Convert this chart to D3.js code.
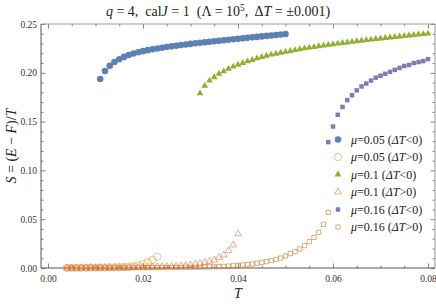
<!DOCTYPE html>
<html>
<head>
<meta charset="utf-8">
<script src="https://cdn.jsdelivr.net/npm/d3@7"></script>
<style>
  body { margin: 0; background: #fff; }
  svg text { font-family: "Liberation Serif", "Times New Roman", "DejaVu Serif", serif; }
</style>
</head>
<body>
<div id="chart"></div>
<script>
// [T, S] pairs, step dT = 0.001
const mu005Down = [
  [0.011, 0.1936], [0.012, 0.2018], [0.013, 0.2073], [0.014, 0.2110], [0.015, 0.2138],
  [0.016, 0.2163], [0.017, 0.2182], [0.018, 0.2198], [0.019, 0.2211], [0.020, 0.2222],
  [0.021, 0.2232], [0.022, 0.2241], [0.023, 0.2249], [0.024, 0.2257], [0.025, 0.2264],
  [0.026, 0.2271], [0.027, 0.2278], [0.028, 0.2284], [0.029, 0.2290], [0.030, 0.2296],
  [0.031, 0.2302], [0.032, 0.2308], [0.033, 0.2313], [0.034, 0.2318], [0.035, 0.2323],
  [0.036, 0.2328], [0.037, 0.2333], [0.038, 0.2338], [0.039, 0.2343], [0.040, 0.2348],
  [0.041, 0.2353], [0.042, 0.2358], [0.043, 0.2363], [0.044, 0.2368], [0.045, 0.2373],
  [0.046, 0.2378], [0.047, 0.2383], [0.048, 0.2388], [0.049, 0.2393], [0.050, 0.2398]
];
const mu005Up = [
  [0.004, 0.0001], [0.005, 0.0001], [0.006, 0.0001], [0.007, 0.0002], [0.008, 0.0002],
  [0.009, 0.0003], [0.010, 0.0003], [0.011, 0.0004], [0.012, 0.0005], [0.013, 0.0006],
  [0.014, 0.0007], [0.015, 0.0009], [0.016, 0.0011], [0.017, 0.0014], [0.018, 0.0018],
  [0.019, 0.0026], [0.020, 0.0038], [0.021, 0.0058], [0.022, 0.0082], [0.023, 0.0116]
];
const mu01Down = [
  [0.032, 0.1790], [0.033, 0.1868], [0.034, 0.1920], [0.035, 0.1954], [0.036, 0.1991],
  [0.037, 0.2015], [0.038, 0.2040], [0.039, 0.2063], [0.040, 0.2083], [0.041, 0.2100],
  [0.042, 0.2117], [0.043, 0.2131], [0.044, 0.2148], [0.045, 0.2162], [0.046, 0.2175],
  [0.047, 0.2186], [0.048, 0.2196], [0.049, 0.2206], [0.050, 0.2216], [0.051, 0.2224],
  [0.052, 0.2233], [0.053, 0.2241], [0.054, 0.2250], [0.055, 0.2258], [0.056, 0.2265],
  [0.057, 0.2272], [0.058, 0.2279], [0.059, 0.2286], [0.060, 0.2292], [0.061, 0.2299],
  [0.062, 0.2305], [0.063, 0.2311], [0.064, 0.2317], [0.065, 0.2323], [0.066, 0.2329],
  [0.067, 0.2335], [0.068, 0.2340], [0.069, 0.2346], [0.070, 0.2351], [0.071, 0.2357],
  [0.072, 0.2362], [0.073, 0.2367], [0.074, 0.2372], [0.075, 0.2377], [0.076, 0.2382],
  [0.077, 0.2387], [0.078, 0.2392], [0.079, 0.2397], [0.080, 0.2402]
];
const mu01Up = [
  [0.004, 0.0000], [0.005, 0.0000], [0.006, 0.0001], [0.007, 0.0001], [0.008, 0.0001],
  [0.009, 0.0001], [0.010, 0.0002], [0.011, 0.0002], [0.012, 0.0002], [0.013, 0.0003],
  [0.014, 0.0003], [0.015, 0.0004], [0.016, 0.0004], [0.017, 0.0005], [0.018, 0.0006],
  [0.019, 0.0007], [0.020, 0.0008], [0.021, 0.0009], [0.022, 0.0010], [0.023, 0.0012],
  [0.024, 0.0013], [0.025, 0.0015], [0.026, 0.0017], [0.027, 0.0019], [0.028, 0.0022],
  [0.029, 0.0026], [0.030, 0.0031], [0.031, 0.0038], [0.032, 0.0046], [0.033, 0.0057],
  [0.034, 0.0068], [0.035, 0.0082], [0.036, 0.0108], [0.037, 0.0133], [0.038, 0.0177],
  [0.039, 0.0236], [0.040, 0.0350]
];
const mu016Down = [
  [0.059, 0.1290], [0.060, 0.1450], [0.061, 0.1570], [0.062, 0.1650], [0.063, 0.1720],
  [0.064, 0.1770], [0.065, 0.1820], [0.066, 0.1860], [0.067, 0.1890], [0.068, 0.1920],
  [0.069, 0.1950], [0.070, 0.1970], [0.071, 0.1990], [0.072, 0.2010], [0.073, 0.2030],
  [0.074, 0.2050], [0.075, 0.2070], [0.076, 0.2080], [0.077, 0.2100], [0.078, 0.2110],
  [0.079, 0.2120], [0.080, 0.2140]
];
const mu016Up = [
  [0.004, 0.0000], [0.005, 0.0000], [0.006, 0.0000], [0.007, 0.0001], [0.008, 0.0001],
  [0.009, 0.0001], [0.010, 0.0001], [0.011, 0.0001], [0.012, 0.0001], [0.013, 0.0002],
  [0.014, 0.0002], [0.015, 0.0002], [0.016, 0.0002], [0.017, 0.0002], [0.018, 0.0003],
  [0.019, 0.0003], [0.020, 0.0003], [0.021, 0.0003], [0.022, 0.0004], [0.023, 0.0004],
  [0.024, 0.0004], [0.025, 0.0004], [0.026, 0.0005], [0.027, 0.0005], [0.028, 0.0005],
  [0.029, 0.0006], [0.030, 0.0007], [0.031, 0.0008], [0.032, 0.0009], [0.033, 0.0010],
  [0.034, 0.0011], [0.035, 0.0013], [0.036, 0.0015], [0.037, 0.0017], [0.038, 0.0020],
  [0.039, 0.0023], [0.040, 0.0027], [0.041, 0.0031], [0.042, 0.0036], [0.043, 0.0041],
  [0.044, 0.0048], [0.045, 0.0058], [0.046, 0.0065], [0.047, 0.0075], [0.048, 0.0089],
  [0.049, 0.0102], [0.050, 0.0123], [0.051, 0.0147], [0.052, 0.0167], [0.053, 0.0195],
  [0.054, 0.0229], [0.055, 0.0270], [0.056, 0.0314], [0.057, 0.0365], [0.058, 0.0447],
  [0.059, 0.0570]
];

const xTicks = [0.00, 0.02, 0.04, 0.06, 0.08];
const xMinor = [0.005, 0.01, 0.015, 0.025, 0.03, 0.035, 0.045, 0.05, 0.055, 0.065, 0.07, 0.075];
const yTicks = [0.00, 0.05, 0.10, 0.15, 0.20, 0.25];
const yMinor = [0.01, 0.02, 0.03, 0.04, 0.06, 0.07, 0.08, 0.09, 0.11, 0.12, 0.13, 0.14,
                0.16, 0.17, 0.18, 0.19, 0.21, 0.22, 0.23, 0.24];

const mus = ['0.05', '0.05', '0.1', '0.1', '0.16', '0.16'];
const signs = ['<', '>', '<', '>', '<', '>'];

const series = [
  { data: mu005Down, shape: 'circle',   color: '#5E81B5', filled: true },
  { data: mu005Up,   shape: 'circle',   color: '#E19C24', filled: false },
  { data: mu01Down,  shape: 'triangle', color: '#8FB032', filled: true },
  { data: mu01Up,    shape: 'triangle', color: '#EB6235', filled: false },
  { data: mu016Down, shape: 'square',   color: '#8778B3', filled: true },
  { data: mu016Up,   shape: 'square',   color: '#C56E1A', filled: false }
];

const W = 436, H = 306;
const frame = { left: 41, right: 435, top: 24, bottom: 268 };
const SERIF = '"Liberation Serif", "Times New Roman", "DejaVu Serif", serif';

const svg = d3.select('#chart').append('svg')
  .attr('width', W)
  .attr('height', H);

const x = d3.scaleLinear()
  .domain([-0.00147, 0.08147])
  .range([frame.left, frame.right]);

const y = d3.scaleLinear()
  .domain([0, 0.25])
  .range([frame.bottom, frame.top]);

// marker symbols
function symbolFor(s) {
  if (s.shape === 'circle') return d3.symbol().type(d3.symbolCircle).size(s.filled ? 34 : 44)();
  if (s.shape === 'triangle') return d3.symbol().type(d3.symbolTriangle).size(s.filled ? 20 : 20)();
  return d3.symbol().type(d3.symbolSquare).size(s.filled ? 20 : 18)();
}

// frame axes, ticks pointing inward
function addAxis(axis, tx, ty, showLabels) {
  const g = svg.append('g')
    .attr('transform', `translate(${tx},${ty})`)
    .call(axis);
  g.select('.domain').remove();
  g.selectAll('line').attr('stroke', '#666').attr('stroke-width', 0.8);
  g.attr('font-family', SERIF).attr('font-size', 9.5);
  g.selectAll('text').attr('fill', '#333');
  if (!showLabels) g.selectAll('text').remove();
  return g;
}

const fmt = d3.format('.2f');
addAxis(d3.axisBottom(x).tickValues(xTicks).tickSize(-4.5).tickPadding(7).tickFormat(fmt), 0, frame.bottom, true);
addAxis(d3.axisBottom(x).tickValues(xMinor).tickSize(-2.5).tickFormat(''), 0, frame.bottom, false);
addAxis(d3.axisTop(x).tickValues(xTicks).tickSize(-4.5), 0, frame.top, false);
addAxis(d3.axisTop(x).tickValues(xMinor).tickSize(-2.5), 0, frame.top, false);
addAxis(d3.axisLeft(y).tickValues(yTicks).tickSize(-4.5).tickPadding(4).tickFormat(fmt), frame.left, 0, true);
addAxis(d3.axisLeft(y).tickValues(yMinor).tickSize(-2.5).tickFormat(''), frame.left, 0, false);
addAxis(d3.axisRight(y).tickValues(yTicks).tickSize(-4.5), frame.right, 0, false);
addAxis(d3.axisRight(y).tickValues(yMinor).tickSize(-2.5), frame.right, 0, false);

// frame lines
svg.append('path')
  .attr('d', `M${frame.left},${frame.top}H${frame.right}V${frame.bottom}`)
  .attr('fill', 'none').attr('stroke', '#999').attr('stroke-width', 1);
svg.append('path')
  .attr('d', `M${frame.left},${frame.top}V${frame.bottom}H${frame.right}`)
  .attr('fill', 'none').attr('stroke', '#555').attr('stroke-width', 1);

// points
series.forEach(s => {
  svg.append('g').selectAll('path')
    .data(s.data)
    .enter().append('path')
    .attr('d', symbolFor(s))
    .attr('transform', d => `translate(${x(d[0])},${y(d[1])})`)
    .attr('fill', s.filled ? s.color : 'none')
    .attr('stroke', s.filled ? 'none' : s.color)
    .attr('stroke-opacity', 0.7)
    .attr('stroke-width', 0.8);
});

// legend
const legend = svg.append('g').attr('transform', 'translate(338,139.5)');
series.forEach((s, i) => {
  const row = legend.append('g').attr('transform', `translate(0,${i * 17.5})`);
  row.append('path')
    .attr('d', symbolFor(s))
    .attr('fill', s.filled ? s.color : 'none')
    .attr('stroke', s.filled ? 'none' : s.color)
    .attr('stroke-opacity', 0.7)
    .attr('stroke-width', 0.8);
  const t = row.append('text')
    .attr('x', 13).attr('y', 4)
    .attr('font-family', SERIF)
    .attr('font-size', 12)
    .attr('fill', '#222');
  t.append('tspan').attr('font-style', 'italic').text('μ');
  t.append('tspan').text(`=${mus[i]} (`);
  t.append('tspan').attr('font-style', 'italic').text('ΔT');
  t.append('tspan').text(`${signs[i]}0)`);
});

// title
const title = svg.append('text')
  .attr('x', W / 2).attr('y', 16)
  .attr('text-anchor', 'middle')
  .attr('font-family', SERIF)
  .attr('font-size', 14)
  .attr('fill', '#222');
title.append('tspan').attr('font-style', 'italic').text('q');
title.append('tspan').text(' = 4,\u00a0 cal');
title.append('tspan').attr('font-style', 'italic').text('J');
title.append('tspan').text(' = 1\u00a0 (Λ = 10');
title.append('tspan').attr('dy', -5).attr('font-size', 9.5).text('5');
title.append('tspan').attr('dy', 5).text(',\u00a0 Δ');
title.append('tspan').attr('font-style', 'italic').text('T');
title.append('tspan').text(' = ±0.001)');

// axis labels
svg.append('text')
  .attr('x', x(0.04)).attr('y', 298)
  .attr('text-anchor', 'middle')
  .attr('font-family', SERIF)
  .attr('font-size', 14)
  .attr('font-style', 'italic')
  .attr('fill', '#222')
  .text('T');

const yl = svg.append('text')
  .attr('transform', `translate(16,${(frame.top + frame.bottom) / 2}) rotate(-90)`)
  .attr('text-anchor', 'middle')
  .attr('font-family', SERIF)
  .attr('font-size', 14)
  .attr('fill', '#222');
yl.append('tspan').attr('font-style', 'italic').text('S');
yl.append('tspan').text(' = (');
yl.append('tspan').attr('font-style', 'italic').text('E');
yl.append('tspan').text(' − ');
yl.append('tspan').attr('font-style', 'italic').text('F');
yl.append('tspan').text(')/');
yl.append('tspan').attr('font-style', 'italic').text('T');
</script>
</body>
</html>
